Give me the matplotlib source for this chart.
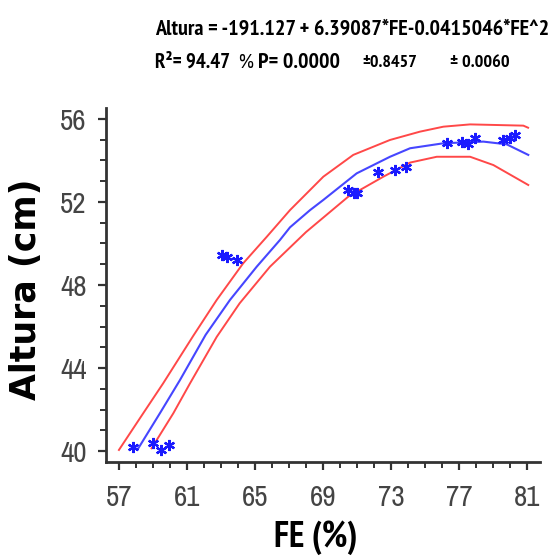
import os
import matplotlib.pyplot as plt
from matplotlib.ticker import MultipleLocator
import matplotlib.font_manager as fm


def pick_font(bold):
    # prefer a narrow / condensed face, like the original chart
    for key in ['Narrow', 'Condensed']:
        for f in fm.fontManager.ttflist:
            fn = os.path.basename(f.fname)
            if key not in fn or 'Oblique' in fn or 'Italic' in fn or 'Mono' in fn or 'Serif' in fn:
                continue
            if ('Bold' in fn) == bold:
                return f.fname
    return None


nb = pick_font(True)
nr = pick_font(False)


def fp(bold, size):
    path = nb if bold else nr
    if path:
        return fm.FontProperties(fname=path, size=size)
    return fm.FontProperties(family='Liberation Sans', weight='bold' if bold else 'normal', size=size)


# observed points (FE %, Altura cm)
fe_pts = [57.84, 59.02, 59.5, 59.96, 63.04, 63.33, 63.92, 70.49, 70.8, 70.98, 72.25, 73.24, 73.9,
          76.27, 77.16, 77.55, 77.94, 79.6, 80.0, 80.29]
alt_pts = [40.2, 40.37, 40.05, 40.29, 49.45, 49.37, 49.2, 52.58, 52.45, 52.42, 53.46, 53.54, 53.7,
           54.83, 54.87, 54.78, 55.07, 54.99, 55.07, 55.23]

# fitted curve
fe_fit = [58.14, 59.41, 60.59, 62.1, 63.53, 65.1, 66.47, 67.06, 68.24, 69.02, 70.98, 72.94, 74.12,
          76.08, 78.43, 79.8, 81.07]
alt_fit = [40.13, 41.82, 43.42, 45.6, 47.28, 48.88, 50.17, 50.78, 51.61, 52.1, 53.38, 54.18, 54.59,
           54.83, 54.91, 54.78, 54.27]

# upper band
fe_up = [57.0, 58.43, 59.6, 61.37, 62.75, 64.3, 65.7, 67.06, 69.02, 70.78, 72.94, 74.7, 76.08,
         77.65, 80.78, 81.06]
alt_up = [40.05, 41.82, 43.26, 45.55, 47.28, 49.04, 50.33, 51.61, 53.22, 54.27, 54.99, 55.39, 55.63,
          55.74, 55.68, 55.58]

# lower band
fe_lo = [58.92, 60.2, 61.18, 62.75, 64.1, 65.88, 68.0, 70.49, 72.55, 74.12, 75.69, 77.65, 79.02, 81.07]
alt_lo = [40.13, 41.82, 43.26, 45.5, 47.12, 48.88, 50.55, 52.26, 53.22, 53.9, 54.18, 54.18, 53.78, 52.82]

xticks = [57, 61, 65, 69, 73, 77, 81]
yticks = [40, 44, 48, 52, 56]

W, H = 552, 558
fig = plt.figure(figsize=(W / 100, H / 100), dpi=100)
ax = fig.add_axes([106 / W, 1 - 462 / H, 434 / W, 354 / H])

ax.plot(fe_up, alt_up, color='#ff4848', lw=1.4)
ax.plot(fe_lo, alt_lo, color='#ff4848', lw=1.4)
ax.plot(fe_fit, alt_fit, color='#4646ff', lw=1.5)
ax.plot(fe_pts, alt_pts, ls='none', marker=(6, 2, 0), ms=8, mew=1.6, color='#1a1aff')

ax.set_xlim(56.24, 81.76)
ax.set_ylim(39.47, 56.53)
ax.set_xticks(xticks)
ax.set_yticks(yticks)
ax.xaxis.set_minor_locator(MultipleLocator(1))
ax.yaxis.set_minor_locator(MultipleLocator(1))

for s in ['top', 'right']:
    ax.spines[s].set_visible(False)
for s in ['left', 'bottom']:
    ax.spines[s].set_linewidth(2)
    ax.spines[s].set_color('#333333')

ax.tick_params(which='major', length=6, width=1.6, color='#333333', pad=8, labelcolor='#444444')
ax.tick_params(axis='x', which='major', pad=10)
ax.tick_params(which='minor', length=4, width=1.4, color='#333333')
tick_size = 21 if nr else 17
for lab in ax.get_xticklabels() + ax.get_yticklabels():
    lab.set_fontproperties(fp(False, tick_size))

fig.text(26 / W, 1 - 289 / H, 'Altura (cm)', rotation=90, ha='center', va='center',
         fontsize=25, fontweight='bold', family='DejaVu Sans')

texts = []


def put(x0, x1, yc, s, bold):
    t = fig.text(x0 / W, 1 - yc / H, s, ha='left', va='center', fontproperties=fp(bold, 12))
    texts.append((t, x1 - x0))
    return t


xl = fig.text(316 / W, 1 - 538 / H, 'FE (%)', ha='center', va='center', fontproperties=fp(True, 12))
texts.append((xl, 83))

# equation header
put(155, 550, 29, 'Altura = -191.127 + 6.39087*FE-0.0415046*FE^2', True)
put(155, 230, 62, 'R\u00b2= 94.47', True)
put(238, 253, 62, '%', False)
put(258, 340, 62, 'P= 0.0000', True)
put(362, 417, 63, '\u00b10.8457', True)
put(450, 510, 63, '\u00b1 0.0060', True)

# scale each text so its width matches the original
fig.canvas.draw()
r = fig.canvas.get_renderer()
for t, target in texts:
    w = t.get_window_extent(r).width
    t.set_fontsize(12 * target / w)

fig.savefig('out.png', dpi=100)
